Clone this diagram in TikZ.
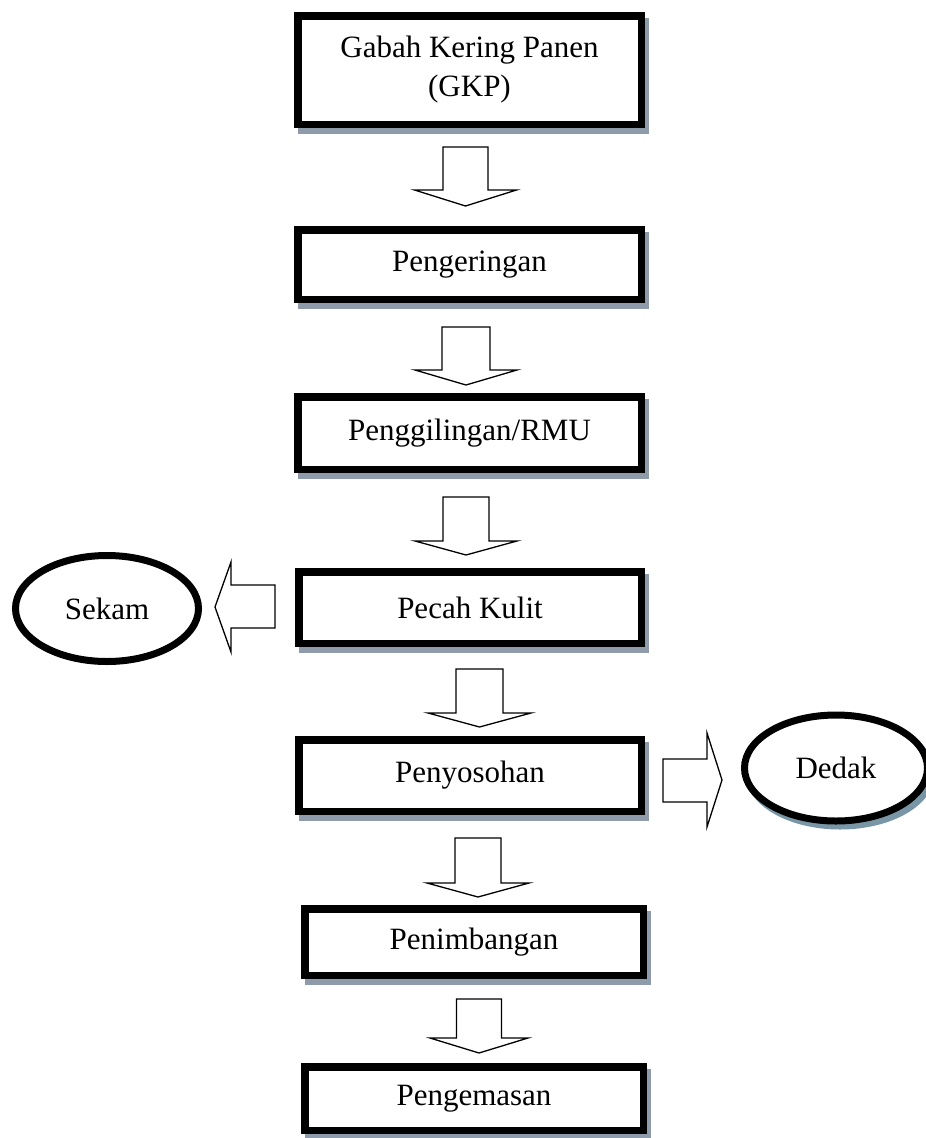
\documentclass[tikz,border=0pt]{standalone}
\usepackage{fontspec}
\setmainfont{Liberation Serif}
\usetikzlibrary{shapes.geometric}
\definecolor{shadowcol}{RGB}{141,155,171}
\definecolor{shadowcolb}{RGB}{120,150,165}
\newcommand\boxfont{\fontsize{31}{39}\selectfont}
\newcommand\blkdown[6]{\draw[blockarrow] ({#1-#2},#4) -- ({#1+#2},#4) -- ({#1+#2},#5) -- ({#1+#3},#5) -- (#1,#6) -- ({#1-#3},#5) -- ({#1-#2},#5) -- cycle;}
\tikzset{
  procbox/.style={draw=black, line width=7.5pt, fill=white, inner sep=0pt,
    align=center, font=\boxfont,
    preaction={draw=shadowcol, fill=shadowcol, line width=7.5pt,
      transform canvas={shift={(3.5pt,-6pt)}}}},
  outbox/.style={ellipse, draw=black, line width=7pt, fill=white, inner sep=0pt,
    minimum width=183pt, minimum height=106pt, font=\boxfont},
  blockarrow/.style={draw=black, line width=1.3pt, fill=white, line join=miter},
}
\begin{document}
\begin{tikzpicture}[x=1pt,y=-1pt]
\useasboundingbox[fill=white] (0,0) rectangle (926,1138);

\node[procbox, minimum width=343.5pt, minimum height=108.5pt] (gkp) at (469.5,70) {Gabah Kering Panen\\(GKP)};
\node[procbox, minimum width=343.5pt, minimum height=69.5pt] (kering) at (469.5,264.5) {Pengeringan};
\node[procbox, minimum width=343.5pt, minimum height=72.5pt] (giling) at (469.5,433) {Penggilingan/RMU};
\node[procbox, minimum width=342.5pt, minimum height=71.5pt] (pecah) at (470,607.5) {Pecah Kulit};
\node[procbox, minimum width=342.5pt, minimum height=71.5pt] (sosoh) at (470,775.5) {Penyosohan};
\node[procbox, minimum width=338.5pt, minimum height=66.5pt] (timbang) at (474,942) {Penimbangan};
\node[procbox, minimum width=338.5pt, minimum height=63.5pt] (kemas) at (474,1098.5) {Pengemasan};

\node[outbox] (sekam) at (107,608.5) {Sekam};
\node[outbox, preaction={draw=shadowcolb, line width=7pt, transform canvas={shift={(4pt,-5pt)}}}] (dedak) at (836,768) {Dedak};

% down arrows
\blkdown{465.5}{22.5}{51}{147}{190}{206}
\blkdown{466}{24}{51}{327}{370}{385}
\blkdown{466}{23}{51}{497}{541}{555}
\blkdown{479.5}{23.5}{51.5}{669}{713}{727}
\blkdown{478}{23}{51}{838}{883}{897}
\blkdown{479}{22.5}{49}{999}{1038}{1053}

% side arrows
\draw[blockarrow] (275,585) -- (275,628) -- (231,628) -- (231,652) -- (215,607) -- (231,562) -- (231,585) -- cycle;
\draw[blockarrow] (663,759) -- (707,759) -- (707,733) -- (722,780) -- (707,827) -- (707,802) -- (663,802) -- cycle;
\end{tikzpicture}
\end{document}
